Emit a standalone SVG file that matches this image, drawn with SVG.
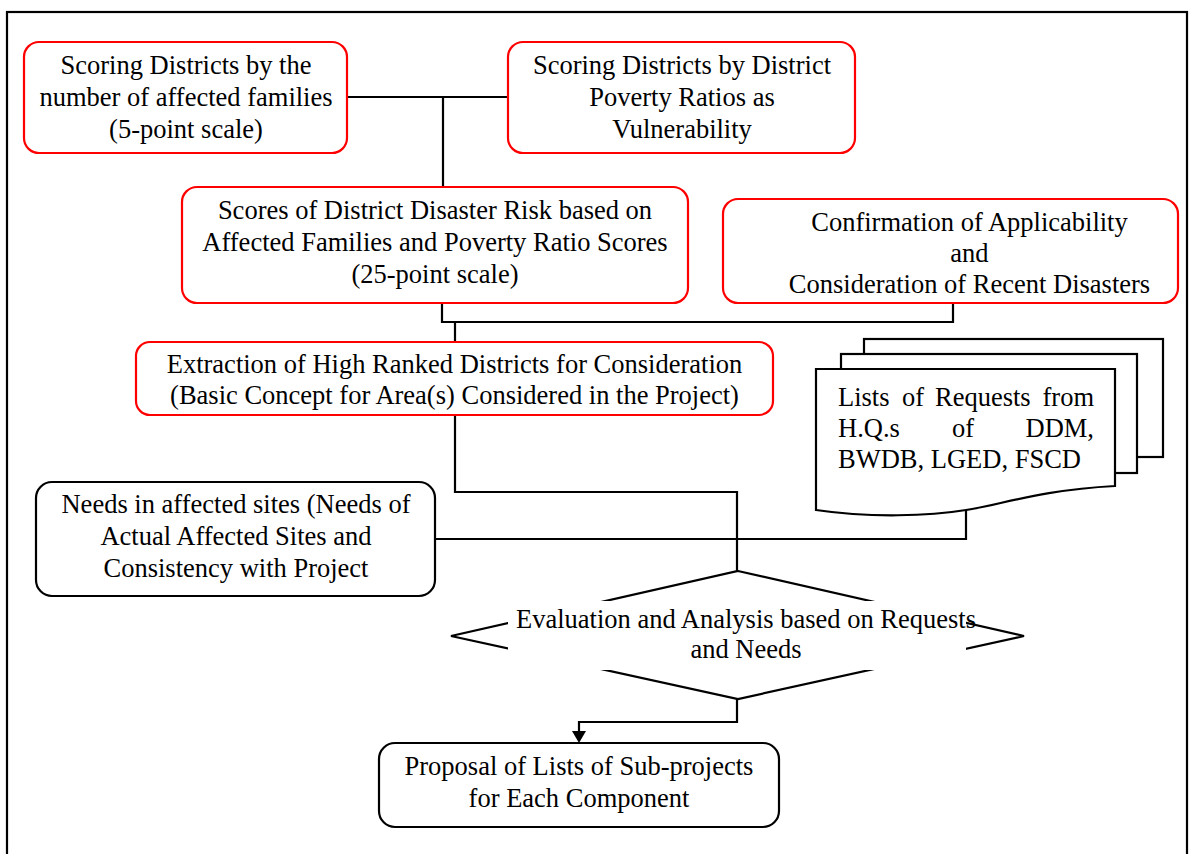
<svg xmlns="http://www.w3.org/2000/svg" width="1190" height="854" viewBox="0 0 1190 854">
<style>
text{font-family:"Liberation Serif","Times New Roman",serif;font-size:26.5px;fill:#000}
.c{text-anchor:middle}
.red{fill:#fff;stroke:#ff0000;stroke-width:2.2}
.blk{fill:#fff;stroke:#000;stroke-width:2.2}
.ln{fill:none;stroke:#000;stroke-width:2.2}
</style>
<rect width="1190" height="854" fill="#fff"/>
<rect id="frame" x="7" y="12" width="1180" height="870" fill="none" stroke="#000" stroke-width="2.2"/>
<g id="connectors">
<path class="ln" d="M347,97 H508"/>
<path class="ln" d="M443,97 V187"/>
<path class="ln" d="M442,303 V322 H953 V303"/>
<path class="ln" d="M455,322 V342"/>
<path class="ln" d="M455,415 V492 H737 V571"/>
<path class="ln" d="M435,539 H966 V510"/>
<path class="ln" d="M737,699 V722 H579 V732"/>
<polygon points="572,731 586,731 579,743" fill="#000"/>
</g>
<g id="n1">
<rect class="red" x="24" y="42" width="323" height="111" rx="15"/>
<text class="c" x="186" y="74">Scoring Districts by the</text>
<text class="c" x="186" y="106">number of affected families</text>
<text class="c" x="186" y="138">(5-point scale)</text>
</g>
<g id="n2">
<rect class="red" x="508" y="42" width="347" height="111" rx="15"/>
<text class="c" x="682" y="74">Scoring Districts by District</text>
<text class="c" x="682" y="106">Poverty Ratios as</text>
<text class="c" x="682" y="138">Vulnerability</text>
</g>
<g id="n3">
<rect class="red" x="182" y="187" width="506" height="116" rx="15"/>
<text class="c" x="435" y="219">Scores of District Disaster Risk based on</text>
<text class="c" x="435" y="251">Affected Families and Poverty Ratio Scores</text>
<text class="c" x="435" y="283">(25-point scale)</text>
</g>
<g id="n4">
<rect class="red" x="723" y="199" width="455" height="104" rx="15"/>
<text class="c" x="969.5" y="231">Confirmation of Applicability</text>
<text class="c" x="969.5" y="262">and</text>
<text class="c" x="969.5" y="293">Consideration of Recent Disasters</text>
</g>
<g id="n5">
<rect class="red" x="136" y="342" width="637" height="73" rx="14"/>
<text class="c" x="454.5" y="373">Extraction of High Ranked Districts for Consideration</text>
<text class="c" x="454.5" y="404">(Basic Concept for Area(s) Considered in the Project)</text>
</g>
<g id="n6">
<rect class="blk" x="864" y="339" width="299" height="118"/>
<rect class="blk" x="841" y="354" width="296" height="119"/>
<path class="blk" d="M816,369 H1115 V486 C1040,490 1000,505 966,510 C930,516 870,518 816,510 Z"/>
<text x="838" y="406">Lists</text>
<text x="902" y="406">of</text>
<text x="935" y="406">Requests</text>
<text x="1094" y="406" text-anchor="end">from</text>
<text x="838" y="437">H.Q.s</text>
<text x="952" y="437">of</text>
<text x="1094" y="437" text-anchor="end">DDM,</text>
<text x="838" y="468">BWDB, LGED, FSCD</text>
</g>
<g id="n7">
<rect class="blk" x="36" y="482" width="399" height="114" rx="16"/>
<text class="c" x="236" y="513">Needs in affected sites (Needs of</text>
<text class="c" x="236" y="545">Actual Affected Sites and</text>
<text class="c" x="236" y="577">Consistency with Project</text>
</g>
<g id="n8">
<polygon class="blk" points="738,571 1024,636 738,699 451,636"/>
<rect x="508" y="601" width="458" height="69" fill="#fff"/>
<text class="c" x="746" y="628">Evaluation and Analysis based on Requests</text>
<text class="c" x="746" y="658">and Needs</text>
</g>
<g id="n9">
<rect class="blk" x="379" y="743" width="400" height="84" rx="16"/>
<text class="c" x="579" y="775">Proposal of Lists of Sub-projects</text>
<text class="c" x="579" y="807">for Each Component</text>
</g>
</svg>
